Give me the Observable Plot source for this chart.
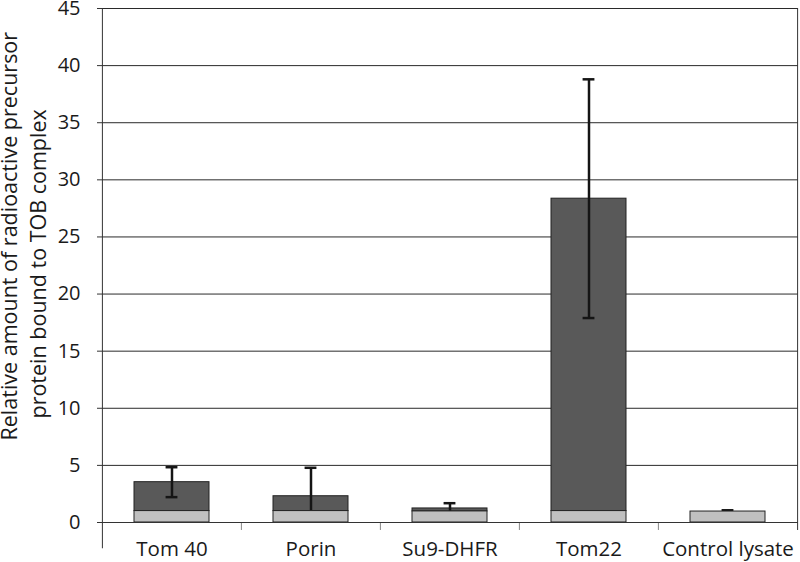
<!DOCTYPE html>
<html>
<head>
<meta charset="utf-8">
<script src="https://cdn.jsdelivr.net/npm/d3@7"></script>
<script src="https://cdn.jsdelivr.net/npm/@observablehq/plot@0.6"></script>
<style>
  html, body { margin: 0; padding: 0; background: #fff; }
  #chart svg { display: block; }
</style>
</head>
<body>
<div id="chart"></div>
<script>
const categories = ["Tom 40", "Porin", "Su9-DHFR", "Tom22", "Control lysate"];
const means = [3.53, 2.3, 1.23, 28.35, 0.96];
const errors = [1.31, 2.49, 0.46, 10.45, 0.11];
const baseline = [1.0, 1.0, 0.97, 1.0, 0.96];
const yTicks = [0, 5, 10, 15, 20, 25, 30, 35, 40, 45];
const yLabelLines = ["Relative amount of radioactive precursor", "protein bound to TOB complex"];

const rows = categories.map((c, i) => ({
  cat: c, mean: means[i], lo: means[i] - errors[i], hi: means[i] + errors[i], base: baseline[i]
}));

const W = 800, H = 562, mL = 102, mR = 2, mT = 8, mB = 40;
const pIn = 0.46, pOut = 0.23;
const step = (W - mL - mR) / (categories.length - pIn + 2 * pOut);
const bw = step * (1 - pIn);
const half = step / 2;
const capW = 12;
const capInset = (bw - capW) / 2;
const font = "'Open Sans', sans-serif";
const midY = mT + (H - mT - mB) / 2;

const chart = Plot.plot({
  width: W, height: H,
  marginLeft: mL, marginRight: mR, marginTop: mT, marginBottom: mB,
  style: { fontFamily: font, fontSize: "20px", color: "#1a1a1a", background: "#fff", overflow: "visible" },
  x: { type: "band", domain: categories, paddingInner: pIn, paddingOuter: pOut, align: 0.5, label: null },
  y: { domain: [0, 45], ticks: yTicks, label: null },
  marks: [
    Plot.gridY(yTicks, { stroke: "#2a2a2a", strokeOpacity: 1, strokeWidth: 1 }),
    Plot.axisY(yTicks, { tickSize: 5, tickPadding: 17, fontSize: 20, stroke: "#333", label: null }),
    Plot.axisX({ tickSize: 0, tickPadding: 19, fontSize: 20.5, label: null }),
    // frame decorations: y axis line, category separators, right border
    Plot.ruleX([categories[0]], { x: d => d, y1: -2.3, y2: 45, dx: -half, stroke: "#333" }),
    Plot.ruleX(categories.slice(1), { x: d => d, y1: -0.7, y2: 0, dx: -half, stroke: "#888" }),
    Plot.ruleX([categories[categories.length - 1]], { x: d => d, y1: -0.7, y2: 45, dx: half, stroke: "#333" }),
    // dark segment
    Plot.barY(rows, { x: "cat", y1: d => Math.min(d.base, d.mean), y2: "mean", fill: "#595959", stroke: "#222", strokeWidth: 1 }),
    // error bars
    Plot.ruleX(rows, { x: "cat", y1: d => Math.max(d.lo, d.base), y2: "hi", stroke: "#151515", strokeWidth: 2.5 }),
    Plot.tickY(rows, { x: "cat", y: "hi", stroke: "#151515", strokeWidth: 2.5, insetLeft: capInset, insetRight: capInset }),
    Plot.tickY(rows.filter(d => d.lo > d.base), { x: "cat", y: "lo", stroke: "#151515", strokeWidth: 2.5, insetLeft: capInset, insetRight: capInset }),
    // light base segment
    Plot.barY(rows, { x: "cat", y1: 0, y2: "base", fill: "#c0c0c0", stroke: "#222", strokeWidth: 1 }),
    Plot.ruleY([0], { stroke: "#333", strokeWidth: 1 }),
    // y axis title (two lines)
    Plot.text([yLabelLines[0]], { frameAnchor: "left", text: d => d, rotate: -90, dx: -92, dy: 440 - midY, textAnchor: "start", lineAnchor: "middle", fontSize: 21.5, fill: "#1a1a1a" }),
    Plot.text([yLabelLines[1]], { frameAnchor: "left", text: d => d, rotate: -90, dx: -63, dy: 418 - midY, textAnchor: "start", lineAnchor: "middle", fontSize: 21.5, fill: "#1a1a1a" })
  ]
});
document.getElementById("chart").appendChild(chart);
</script>
</body>
</html>
